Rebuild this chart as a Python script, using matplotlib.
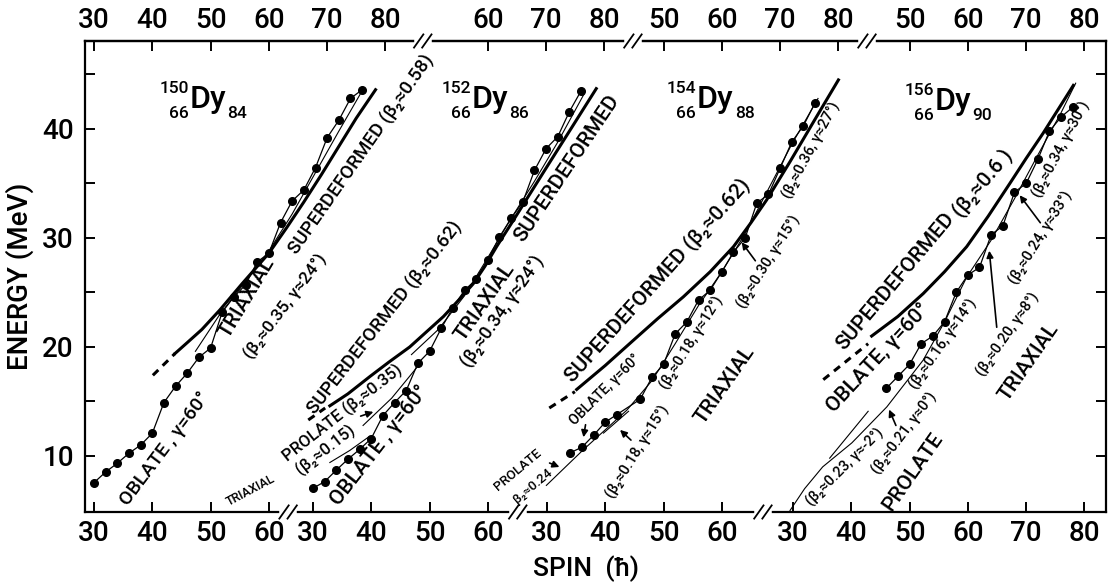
import numpy as np
import matplotlib
matplotlib.use("Agg")
from matplotlib import pyplot as plt
from matplotlib import transforms

plt.rcParams['font.family'] = ['Roboto', 'DejaVu Sans']

# every panel uses the same spin scale, shifted to the right
offsets = [0.0, 37.56, 77.7, 119.9]

# measured levels (spin, energy in MeV)
spin_150 = np.arange(30, 78, 2)
e_150 = [7.55, 8.53, 9.33, 10.25, 11.0, 12.08, 14.9, 16.4, 17.6, 19.05, 19.9, 23.2,
         24.6, 25.7, 27.8, 28.6, 31.4, 33.4, 34.4, 36.45, 39.2, 40.8, 42.8, 43.6]
spin_152 = np.arange(30, 78, 2)
e_152 = [7.04, 7.64, 8.7, 9.7, 10.6, 11.6, 13.7, 14.9, 16.0, 18.5, 19.6, 21.7,
         23.6, 25.2, 26.2, 28.0, 30.1, 31.8, 33.3, 36.2, 38.2, 39.3, 41.6, 43.5]
spin_154 = [34, 36, 38, 40, 42, 46, 48, 50, 52, 54, 56, 58, 60, 62, 64, 66, 68, 70, 72, 74, 76]
e_154 = [10.3, 10.8, 11.9, 13.1, 13.8, 15.2, 17.2, 18.4, 21.2, 22.3, 24.3, 25.2,
         26.9, 28.7, 30.0, 33.2, 34.0, 36.4, 38.8, 40.3, 42.4]
spin_156 = np.arange(46, 80, 2)
e_156 = [16.2, 17.3, 18.4, 20.3, 21.0, 22.3, 25.0, 26.6, 27.3, 30.3, 31.1, 34.2,
         35.0, 37.2, 39.8, 41.1, 42.0]
levels = [(spin_150, e_150), (spin_152, e_152), (spin_154, e_154), (spin_156, e_156)]

# calculated superdeformed bands (thick): dashed start, then solid
sd_dash = [([40.1, 43.9], [17.4, 19.4]),
           ([29.2, 32.1], [13.3, 14.4]),
           ([30.4, 34.8], [14.4, 15.9]),
           ([35.2, 42.9], [17.0, 20.3])]
sd_solid = [([43.9, 46.0, 48.5, 51.6, 55.4, 60.0, 63.0, 66.0, 69.0, 72.0, 75.0, 78.3],
             [19.4, 20.4, 21.6, 23.4, 25.8, 28.6, 30.9, 33.3, 35.8, 38.4, 41.0, 43.6]),
            ([32.9, 36.0, 39.8, 43.0, 46.6, 49.5, 52.4, 55.0, 57.5, 59.5, 61.5, 64.0, 66.0, 70.1, 74.0, 78.6],
             [14.6, 15.7, 17.3, 18.6, 20.0, 21.4, 22.8, 24.3, 25.8, 27.4, 29.2, 31.3, 33.0, 36.5, 39.8, 43.7]),
            ([35.1, 40.0, 44.8, 49.0, 53.4, 58.0, 62.0, 65.0, 67.7, 71.7, 76.0, 80.0],
             [16.1, 18.3, 20.6, 22.6, 24.6, 26.9, 29.2, 31.4, 33.5, 37.0, 40.9, 44.5]),
            ([43.5, 48.0, 52.35, 56.0, 59.8, 63.5, 67.2, 70.0, 72.9, 75.5, 78.1],
             [21.0, 22.8, 24.9, 26.9, 29.2, 32.0, 35.0, 37.3, 39.6, 41.8, 44.0])]

# other calculated configurations (thin lines): (panel, spins, energies)
thin_curves = [
    (0, [47.4, 51.6, 56.0, 60.0, 64.0, 68.0, 72.0, 76.0], [19.6, 23.0, 26.0, 28.8, 32.2, 36.0, 39.8, 43.5]),
    (1, [32.9, 36.3, 39.7], [9.4, 10.5, 11.8]),
    (1, [38.6, 43.5, 48.1], [12.8, 15.3, 18.3]),
    (1, [46.9, 51.5, 56.0, 60.0, 64.0, 68.0, 72.0, 76.5], [19.3, 21.6, 24.7, 28.2, 31.8, 35.2, 38.8, 43.2]),
    (2, [29.9, 33.0, 36.2, 40.0, 43.7, 48.0, 52.0, 56.0, 60.0, 64.0, 68.0, 72.0, 76.5],
        [7.3, 8.9, 10.55, 12.4, 14.2, 16.9, 20.3, 23.8, 26.9, 30.4, 34.5, 38.6, 42.8]),
    (2, [39.7, 44.0], [12.1, 14.1]),
    (3, [29.5, 32.0, 35.1, 40.1, 46.1, 52.35, 56.0, 59.8, 64.0, 68.0, 72.0, 76.0, 78.5],
        [5.0, 7.0, 9.0, 11.2, 14.5, 18.8, 22.3, 26.4, 29.8, 33.6, 37.6, 41.5, 44.2]),
    (3, [36.3, 42.9], [9.8, 14.1]),
]

nuclei = [('150', '66', '84'), ('152', '66', '86'), ('154', '66', '88'), ('156', '66', '90')]
bottom_ticks = [[30, 40, 50, 60], [30, 40, 50, 60], [30, 40, 50, 60], [30, 40, 50, 60, 70, 80]]
top_ticks = [[30, 40, 50, 60, 70, 80], [60, 70, 80], [50, 60, 70, 80], [50, 60, 70, 80]]
bottom_breaks = [63.3, 102.7, 144.75]
top_breaks = [86.4, 122.45, 162.6]

# ---- layout (pixel frame of the original)
W, H = 1108, 585
AX_L, AX_R, AX_T, AX_B = 85, 1106, 41, 512

def px(x, y):
    return ((x - AX_L) / (AX_R - AX_L), (AX_B - y) / (AX_B - AX_T))

fig = plt.figure(figsize=(W / 100, H / 100), dpi=100)
ax = fig.add_axes([AX_L / W, 1 - AX_B / H, (AX_R - AX_L) / W, (AX_B - AX_T) / H])
ax.set_xlim(28.46, 203.6)
ax.set_ylim(4.86, 48.07)

for k, off in enumerate(offsets):
    s, e = levels[k]
    ax.plot(np.asarray(s) + off, e, '-o', color='black', lw=0.9, ms=5.5, zorder=4)
    ds, de = sd_dash[k]
    ax.plot(np.asarray(ds) + off, de, color='black', lw=2.2, ls=(0, (2.5, 2.0)))
    ss, se = sd_solid[k]
    ax.plot(np.asarray(ss) + off, se, color='black', lw=2.2, solid_joinstyle='round')
for k, s, e in thin_curves:
    ax.plot(np.asarray(s) + offsets[k], e, color='black', lw=0.8)

# axes, ticks
for sp in ax.spines.values():
    sp.set_linewidth(1.6)
bpos, blab = [], []
for k, off in enumerate(offsets):
    for t in bottom_ticks[k]:
        bpos.append(t + off)
        blab.append(str(t))
ax.set_xticks(bpos, blab)
ax.set_yticks([10, 20, 30, 40])
ax.set_yticks([15, 25, 35, 45], minor=True)
ax.tick_params(which='both', direction='in', length=7, width=1.4, labelsize=20,
               right=True, top=False)
ax.tick_params(axis='x', pad=6)
ax.tick_params(axis='y', pad=8)

tpos, tlab = [], []
for k, off in enumerate(offsets):
    for t in top_ticks[k]:
        tpos.append(t + off)
        tlab.append(str(t))
sec = ax.secondary_xaxis('top')
sec.set_xticks(tpos, tlab)
sec.tick_params(direction='in', length=7, width=1.4, labelsize=20, pad=5)
sec.spines['top'].set_linewidth(1.6)
for lab in ax.get_xticklabels() + ax.get_yticklabels() + sec.get_xticklabels():
    lab.set_fontweight('medium')

trans = transforms.blended_transform_factory(ax.transData, ax.transAxes)

def draw_break(xb, yb):
    ax.plot([xb - 1.0, xb + 1.0], [yb, yb], color='white', lw=4, transform=trans,
            clip_on=False, zorder=6)
    for dx in (-0.7, 0.7):
        ax.plot([xb + dx - 0.8, xb + dx + 0.8], [yb - 0.014, yb + 0.014], color='black',
                lw=1.3, transform=trans, clip_on=False, zorder=7)

for b in bottom_breaks:
    draw_break(b, 0.0)
for b in top_breaks:
    draw_break(b, 1.0)

ax.set_ylabel('ENERGY (MeV)', fontsize=20, labelpad=6, fontweight='medium')
fig.text(586 / W, 1 - 569 / H, 'SPIN  (\u0127)', fontsize=19, ha='center', va='center',
         fontweight='medium')

# nucleus names
renderer = fig.canvas.get_renderer()
ax_x0 = ax.get_window_extent(renderer).x0
dy_pos = [(190, 108), (472, 108), (697, 108), (935, 110)]
for (a, z, n), (x, y) in zip(nuclei, dy_pos):
    t = ax.text(*px(x, y), 'Dy', transform=ax.transAxes, fontsize=23, ha='left',
                va='baseline', fontweight='medium')
    x_end = AX_L + (t.get_window_extent(renderer).x1 - ax_x0)
    ax.text(*px(x - 1, y - 15), a, transform=ax.transAxes, fontsize=12.5, ha='right',
            va='baseline', fontweight='medium')
    ax.text(*px(x - 1, y + 10), z, transform=ax.transAxes, fontsize=12.5, ha='right',
            va='baseline', fontweight='medium')
    ax.text(*px(x_end + 1, y + 10), n, transform=ax.transAxes, fontsize=12.5, ha='left',
            va='baseline', fontweight='medium')

labels = [
    ('TRIAXIAL', 247, 298, 59, 15),
    ('(\u03b2\u2082\u22480.35, \u03b3\u224824\u00b0)', 285, 306, 53, 12.5),
    ('OBLATE , \u03b3=60\u00b0', 165, 449, 53, 14),
    ('TRIAXIAL', 251, 490, 28, 9),
    ('SUPERDEFORMED (\u03b2\u2082\u22480.58)', 362, 155, 55, 13.5),
    ('SUPERDEFORMED (\u03b2\u2082\u22480.62)', 385, 318, 52, 13.5),
    ('TRIAXIAL', 485, 302, 55, 15),
    ('(\u03b2\u2082\u22480.34, \u03b3\u224824\u00b0)', 503, 312, 55, 13),
    ('PROLATE (\u03b2\u2082\u22480.35)', 343, 413, 38, 12),
    ('(\u03b2\u2082\u22480.15)', 325, 450, 38, 12),
    ('OBLATE , \u03b3=60\u00b0', 380, 445, 52, 15),
    ('SUPERDEFORMED', 567, 168, 56, 15),
    ('SUPERDEFORMED (\u03b2\u2082\u22480.62)', 657, 280, 48, 15),
    ('OBLATE, \u03b3=60\u00b0', 605, 390, 45, 10),
    ('PROLATE', 518, 470, 40, 9.5),
    ('\u03b2\u2082\u22480.24', 533, 486, 40, 9.5),
    ('(\u03b2\u2082\u22480.18, \u03b3\u224815\u00b0)', 638, 452, 58, 10.5),
    ('(\u03b2\u2082\u22480.18, \u03b3\u224812\u00b0)', 692, 343, 58, 10.5),
    ('TRIAXIAL', 725, 385, 55, 15),
    ('(\u03b2\u2082\u22480.30, \u03b3\u224815\u00b0)', 769, 262, 58, 10.5),
    ('(\u03b2\u2082\u22480.36, \u03b3\u224827\u00b0)', 811, 150, 62, 10.5),
    ('SUPERDEFORMED', 895, 281, 50, 15),
    ('(\u03b2\u2082\u22480.6 )', 982, 183, 50, 15),
    ('OBLATE, \u03b3=60\u00b0', 878, 358, 47, 15),
    ('(\u03b2\u2082\u22480.16, \u03b3\u224814\u00b0)', 943, 344, 55, 10.5),
    ('(\u03b2\u2082\u22480.21, \u03b3\u22480\u00b0)', 904, 433, 53, 10.5),
    ('(\u03b2\u2082\u22480.23, \u03b3\u2248-2\u00b0)', 845, 467, 45, 10.5),
    ('PROLATE', 913, 472, 55, 15),
    ('(\u03b2\u2082\u22480.20, \u03b3\u22488\u00b0)', 1008, 334, 55, 10.5),
    ('TRIAXIAL', 1029, 362, 55, 15),
    ('(\u03b2\u2082\u22480.24, \u03b3\u224833\u00b0)', 1041, 238, 58, 10.5),
    ('(\u03b2\u2082\u22480.34, \u03b3\u224830\u00b0)', 1061, 149, 62, 10.5),
]
for txt, x, y, rot, size in labels:
    ax.text(*px(x, y), txt, transform=ax.transAxes, fontsize=size, rotation=rot,
            ha='center', va='center', rotation_mode='anchor', fontweight='medium')

arrows = [
    (358, 417, 376, 411),
    (586, 422, 583, 440),
    (547, 462, 562, 468),
    (633, 442, 618, 428),
    (757, 263, 740, 240),
    (897, 428, 888, 407),
    (997, 330, 989, 248),
    (1042, 225, 1018, 193),
]
for x0, y0, x1, y1 in arrows:
    ax.annotate('', xy=px(x1, y1), xytext=px(x0, y0), xycoords='axes fraction',
                textcoords='axes fraction',
                arrowprops=dict(arrowstyle='-|>', lw=1.2, color='black', mutation_scale=10))

fig.savefig('out.png', dpi=100)
